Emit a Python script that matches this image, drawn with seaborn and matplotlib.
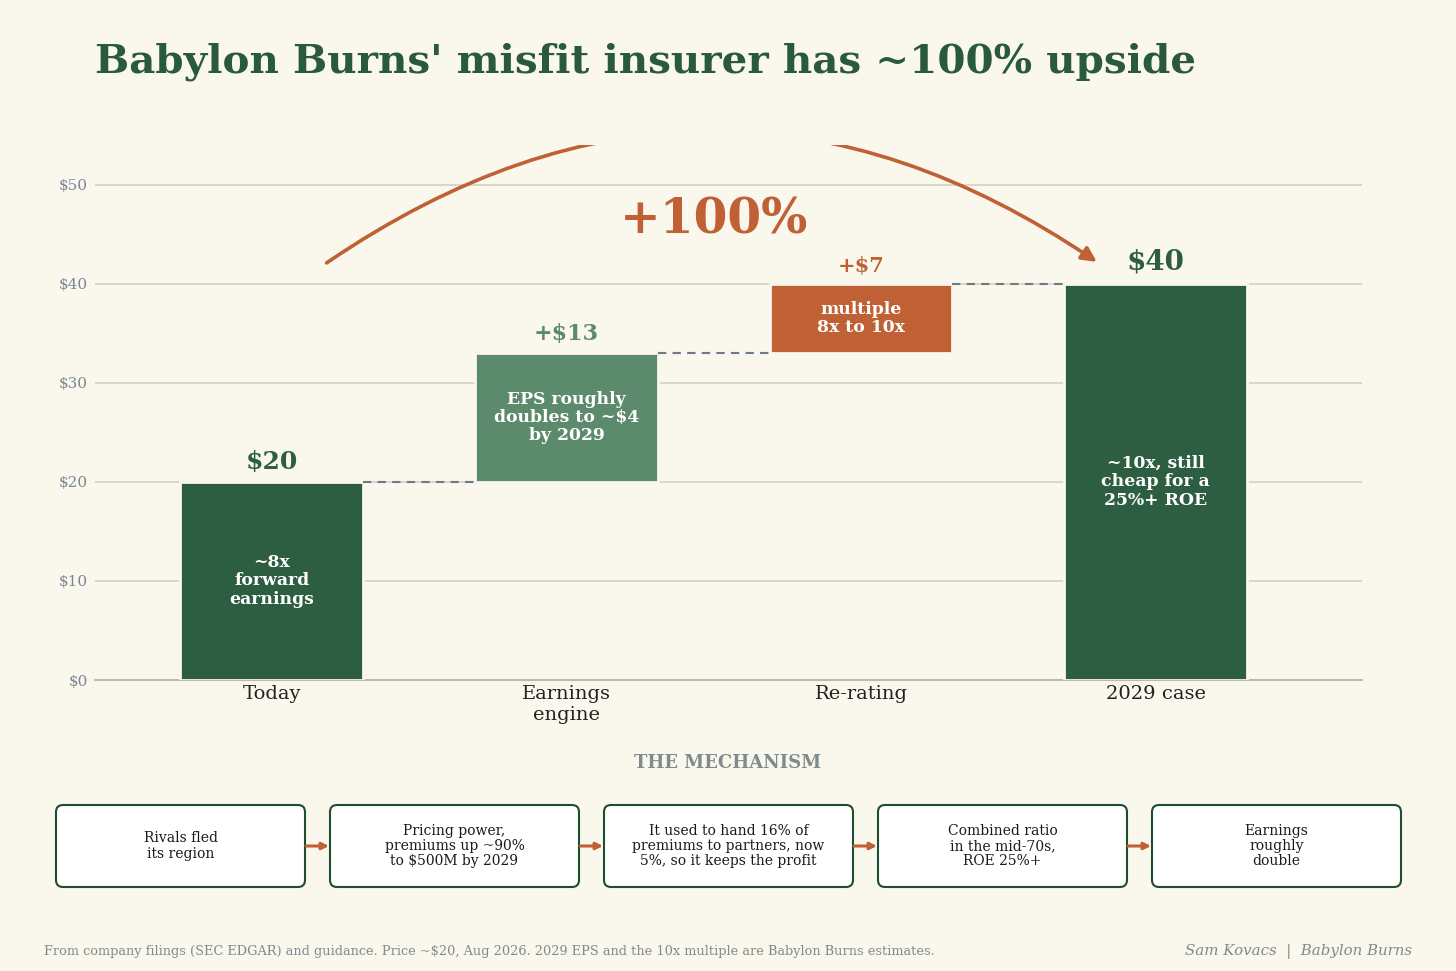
import matplotlib
matplotlib.use("Agg")
import matplotlib.pyplot as plt
from matplotlib.patches import FancyArrowPatch, FancyBboxPatch
import seaborn as sns
import pandas as pd
import numpy as np

# ---------------- data ----------------
categories = ["Today", "Earnings\nengine", "Re-rating", "2029 case"]
bar_bottoms = [0, 20, 33, 0]
bar_heights = [20, 13, 7, 40]
top_labels = ["$20", "+$13", "+$7", "$40"]
inner_labels = ["~8x\nforward\nearnings", "EPS roughly\ndoubles to ~$4\nby 2029",
                "multiple\n8x to 10x", "~10x, still\ncheap for a\n25%+ ROE"]
yticks = [0, 10, 20, 30, 40, 50]
ytick_labels = ["$0", "$10", "$20", "$30", "$40", "$50"]
upside_label = "+100%"
mechanism_steps = ["Rivals fled\nits region",
                   "Pricing power,\npremiums up ~90%\nto $500M by 2029",
                   "It used to hand 16% of\npremiums to partners, now\n5%, so it keeps the profit",
                   "Combined ratio\nin the mid-70s,\nROE 25%+",
                   "Earnings\nroughly\ndouble"]
title = "Babylon Burns' misfit insurer has ~100% upside"
footer = ("From company filings (SEC EDGAR) and guidance. Price ~$20, Aug 2026. "
          "2029 EPS and the 10x multiple are Babylon Burns estimates.")
byline = "Sam Kovacs  |  Babylon Burns"

# ---------------- style ----------------
BG = "#FAF7EC"
DARK = "#2E5E41"
MID = "#5B8A6D"
ORANGE = "#BF6035"
GREY = "#7B8794"
GRID = "#D5D1C0"
bar_colors = [DARK, MID, ORANGE, DARK]
top_colors = [DARK, MID, ORANGE, DARK]
top_sizes = [18, 16, 15, 20]

sns.set_theme(style="white")
plt.rcParams["font.family"] = ["DejaVu Serif"]

W, H = 1456, 971
fig = plt.figure(figsize=(W / 100, H / 100), dpi=100, facecolor=BG)

ax = fig.add_axes([95 / W, 1 - 680 / H, (1362 - 95) / W, (680 - 145) / H])
ax.set_facecolor(BG)

df = pd.DataFrame({"cat": categories, "height": bar_heights, "bottom": bar_bottoms})
sns.barplot(data=df, x="cat", y="height", hue="cat", order=categories,
            hue_order=categories, palette=dict(zip(categories, bar_colors)),
            width=0.62, legend=False, ax=ax, saturation=1,
            edgecolor=BG, linewidth=2, zorder=3)

# waterfall: lift each bar to its bottom
bars = []
for cont in ax.containers:
    for p in cont.patches:
        bars.append(p)
bars.sort(key=lambda p: p.get_x())
for p, b, h in zip(bars, bar_bottoms, bar_heights):
    p.set_y(b)
    p.set_height(h)

ax.set_xlim(-0.6, 3.7)
ax.set_ylim(0, 54)
ax.set_yticks(yticks)
ax.set_yticklabels(ytick_labels)
ax.tick_params(axis="y", colors=GREY, labelsize=11, length=0, pad=5)
ax.tick_params(axis="x", colors="#222222", labelsize=14, length=0, pad=3.5)
ax.set_xlabel("")
ax.set_ylabel("")
for s in ["top", "right", "left"]:
    ax.spines[s].set_visible(False)
ax.spines["bottom"].set_color("#BDBAA8")
ax.spines["bottom"].set_linewidth(1.5)
ax.grid(axis="y", color=GRID, linewidth=1.2, zorder=0)
ax.set_axisbelow(True)

# connectors
for i in range(len(bars) - 1):
    level = bar_bottoms[i] + bar_heights[i]
    x0 = bars[i].get_x() + bars[i].get_width()
    x1 = bars[i + 1].get_x()
    ax.plot([x0, x1], [level, level], color="#6C7A89", lw=1.5,
            ls=(0, (4, 3)), zorder=4)

# labels
for i, p in enumerate(bars):
    cx = p.get_x() + p.get_width() / 2
    top = bar_bottoms[i] + bar_heights[i]
    ax.text(cx, top + 0.8, top_labels[i], ha="center", va="bottom",
            fontsize=top_sizes[i], fontweight="bold", color=top_colors[i], zorder=5)
    ax.text(cx, bar_bottoms[i] + bar_heights[i] / 2, inner_labels[i],
            ha="center", va="center", fontsize=12.4, fontweight="bold",
            color="white", linespacing=1.1, zorder=5)

# big arc arrow
arc = FancyArrowPatch((0.186, 42.1), (2.80, 42.2),
                      connectionstyle="arc3,rad=-0.34", arrowstyle="-|>",
                      mutation_scale=22, lw=2.6, color=ORANGE,
                      shrinkA=0, shrinkB=0, zorder=6)
ax.add_patch(arc)
ax.text(1.5, 46.4, upside_label, ha="center", va="center", fontsize=35,
        fontweight="bold", color=ORANGE, zorder=6)

# title
fig.text(95 / W, 1 - 62 / H, title, ha="left", va="center", fontsize=29.15,
         fontweight="bold", color="#2A5A3E")

# mechanism
fig.text(728 / W, 1 - 763 / H, "THE MECHANISM", ha="center", va="center",
         fontsize=13, fontweight="bold", color="#7F8C8D")

bx0, bx1, by0, by1 = 55, 1401, 804, 888
axf = fig.add_axes([bx0 / W, 1 - by1 / H, (bx1 - bx0) / W, (by1 - by0) / H])
axf.set_xlim(0, bx1 - bx0)
axf.set_ylim(0, by1 - by0)
axf.axis("off")
box_w, pitch = 251, 274
bh = by1 - by0
for i, step in enumerate(mechanism_steps):
    x = i * pitch
    box = FancyBboxPatch((x + 1, 1), box_w - 2, bh - 2,
                         boxstyle="round,pad=0,rounding_size=7",
                         fc="white", ec="#1E4D2F", lw=1.5, clip_on=False)
    axf.add_patch(box)
    axf.text(x + box_w / 2, bh / 2, step, ha="center", va="center",
             fontsize=10, color="#1a1a1a", linespacing=1.1)
    if i < len(mechanism_steps) - 1:
        axf.annotate("", xy=((i + 1) * pitch, bh / 2), xytext=(x + box_w, bh / 2),
                     arrowprops=dict(arrowstyle="-|>", color=ORANGE, lw=2.2,
                                     shrinkA=0, shrinkB=0, mutation_scale=10),
                     annotation_clip=False)

# footer
fig.text(44 / W, 1 - 951 / H, footer, ha="left", va="center", fontsize=9.25,
         color="#7F8C8D")
fig.text(1412 / W, 1 - 951 / H, byline, ha="right", va="center", fontsize=10.8,
         style="italic", color="#7F8C8D")

fig.savefig("out.png", dpi=100, facecolor=BG)
